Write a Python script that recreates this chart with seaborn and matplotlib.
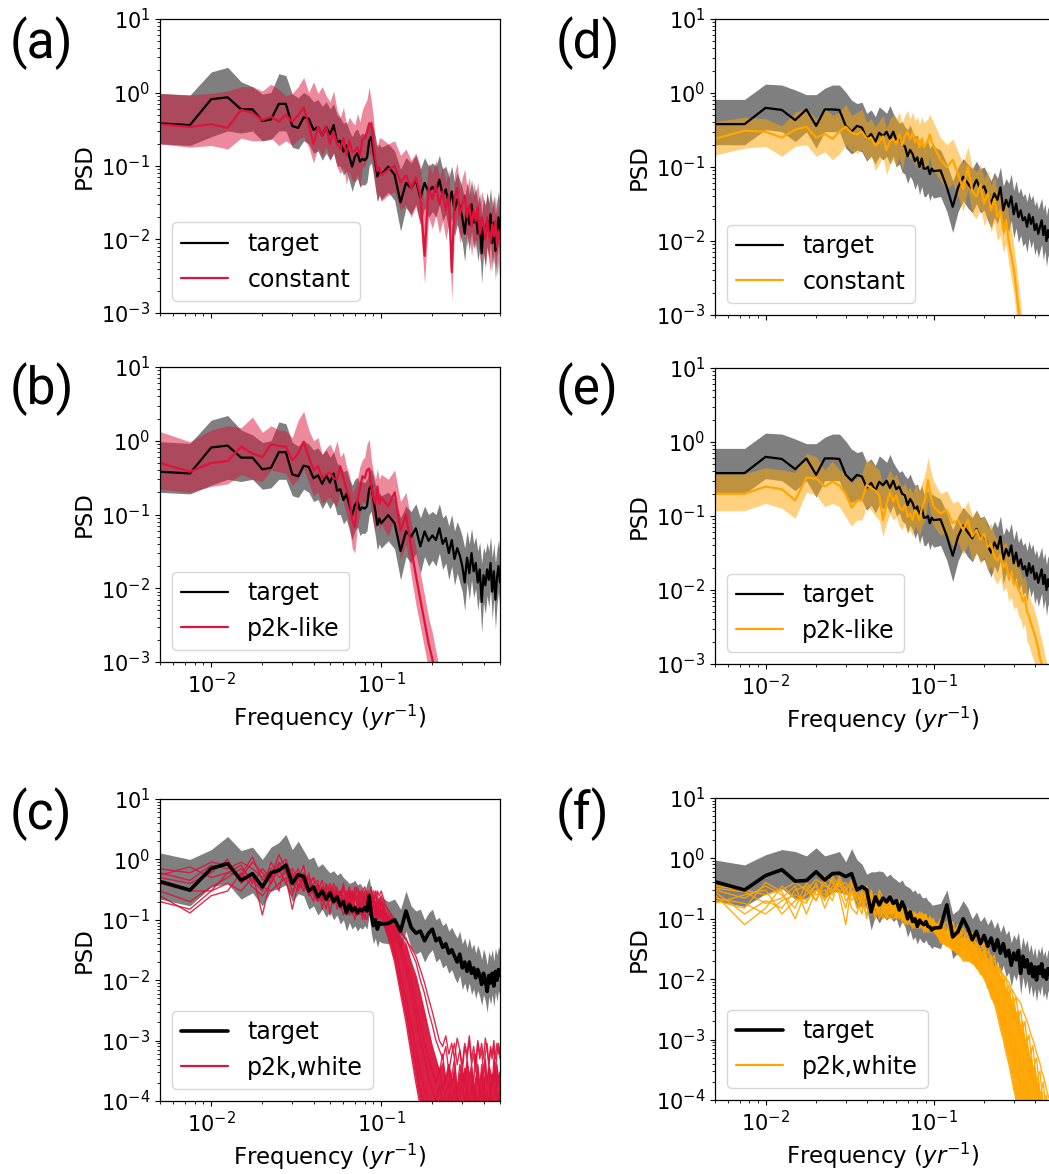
import numpy as np
import pandas as pd
import matplotlib
matplotlib.use("Agg")
import matplotlib.pyplot as plt
from matplotlib.lines import Line2D
from matplotlib.ticker import LogLocator, NullFormatter
import seaborn as sns

# ---------------- data ----------------
freq = [0.005, 0.0075, 0.01, 0.0125, 0.015, 0.0175, 0.02, 0.0225, 0.025, 0.0275,
        0.03, 0.0325, 0.035, 0.0375, 0.04, 0.0425, 0.045, 0.0475, 0.05, 0.0525,
        0.055, 0.0575, 0.06, 0.0625, 0.065, 0.0675, 0.07, 0.0725, 0.075, 0.0775,
        0.08, 0.0825, 0.085, 0.0875, 0.09, 0.0925, 0.095, 0.0975, 0.1,
        0.11, 0.12, 0.13, 0.14, 0.15, 0.16, 0.17, 0.18, 0.19, 0.20,
        0.21, 0.22, 0.23, 0.24, 0.25, 0.26, 0.27, 0.28, 0.29, 0.30,
        0.31, 0.32, 0.33, 0.34, 0.35, 0.36, 0.37, 0.38, 0.39, 0.40,
        0.41, 0.42, 0.43, 0.44, 0.45, 0.46, 0.47, 0.48, 0.49, 0.50]

# left column target (panels a, b)
tgt_left_med = [0.38, 0.36, 0.81, 0.86, 0.59, 0.59, 0.41, 0.43, 0.70, 0.70, 0.35, 0.33, 0.46, 0.44, 0.31, 0.34, 0.26, 0.34, 0.27, 0.36, 0.21, 0.22, 0.157, 0.19, 0.134, 0.098, 0.134, 0.15, 0.115, 0.125, 0.12, 0.13, 0.22, 0.25, 0.16, 0.11, 0.072, 0.088, 0.076] + \
               [0.098, 0.076, 0.032, 0.059, 0.05, 0.065, 0.037, 0.059, 0.044, 0.052, 0.045, 0.065, 0.04, 0.048, 0.03, 0.045, 0.025, 0.035, 0.028, 0.02, 0.012, 0.026, 0.016, 0.03, 0.017, 0.022, 0.012, 0.018, 0.0065, 0.015, 0.011, 0.018, 0.013, 0.022, 0.009, 0.017, 0.007, 0.014, 0.02, 0.012]
tgt_left_hi = [0.97, 0.92, 1.9, 2.2, 1.4, 1.2, 0.95, 1.0, 1.8, 1.7, 0.95, 0.85, 1.0, 0.9, 0.75, 0.8, 0.65, 0.75, 0.6, 0.7, 0.5, 0.45, 0.38, 0.4, 0.3, 0.25, 0.3, 0.32, 0.26, 0.28, 0.27, 0.3, 0.38, 0.42, 0.33, 0.25, 0.18, 0.2, 0.18] + \
              [0.2, 0.16, 0.09, 0.13, 0.11, 0.14, 0.09, 0.13, 0.1, 0.11, 0.1, 0.14, 0.09, 0.1, 0.07, 0.1, 0.06, 0.08, 0.065, 0.05, 0.035, 0.06, 0.04, 0.065, 0.04, 0.05, 0.032, 0.042, 0.022, 0.036, 0.03, 0.042, 0.032, 0.05, 0.026, 0.04, 0.022, 0.034, 0.045, 0.03]
tgt_left_lo = [0.2, 0.19, 0.25, 0.3, 0.28, 0.3, 0.22, 0.23, 0.3, 0.3, 0.18, 0.17, 0.22, 0.2, 0.15, 0.16, 0.12, 0.15, 0.12, 0.15, 0.1, 0.1, 0.075, 0.085, 0.062, 0.045, 0.06, 0.068, 0.052, 0.056, 0.055, 0.06, 0.1, 0.11, 0.075, 0.05, 0.033, 0.04, 0.035] + \
              [0.044, 0.034, 0.013, 0.027, 0.022, 0.03, 0.016, 0.027, 0.02, 0.024, 0.02, 0.03, 0.018, 0.022, 0.013, 0.02, 0.011, 0.016, 0.012, 0.009, 0.005, 0.012, 0.007, 0.013, 0.0075, 0.01, 0.005, 0.008, 0.0025, 0.0065, 0.0045, 0.008, 0.0055, 0.01, 0.0038, 0.0075, 0.0028, 0.006, 0.009, 0.005]

# panel a: constant (crimson)
const_left_med = [0.37, 0.34, 0.37, 0.33, 0.58, 0.53, 0.42, 0.47, 0.40, 0.50, 0.40, 0.49, 0.63, 0.36, 0.20, 0.34, 0.26, 0.34, 0.2, 0.29, 0.2, 0.17, 0.24, 0.14, 0.22, 0.155, 0.16, 0.18, 0.14, 0.23, 0.24, 0.29, 0.38, 0.37, 0.2, 0.12, 0.085, 0.095, 0.075] + \
                 [0.09, 0.1, 0.06, 0.075, 0.05, 0.07, 0.04, 0.006, 0.05, 0.035, 0.055, 0.03, 0.045, 0.025, 0.04, 0.0036, 0.035, 0.05, 0.022, 0.03, 0.04, 0.02, 0.03, 0.015, 0.025, 0.018, 0.028, 0.012, 0.02, 0.016, 0.01, 0.02, 0.012, 0.009, 0.016, 0.011, 0.018, 0.008, 0.013, 0.01]
const_left_hi = [0.97, 0.93, 0.97, 1.05, 1.2, 1.2, 1.05, 1.3, 1.1, 0.9, 0.97, 1.2, 1.6, 1.0, 1.4, 0.97, 1.2, 0.9, 0.75, 1.05, 0.58, 0.46, 0.63, 0.36, 0.46, 0.4, 0.36, 0.52, 0.4, 0.58, 0.69, 0.8, 1.2, 0.75, 0.46, 0.2, 0.19, 0.24, 0.24] + \
                [0.2, 0.22, 0.14, 0.17, 0.12, 0.15, 0.1, 0.03, 0.11, 0.08, 0.12, 0.07, 0.1, 0.06, 0.09, 0.015, 0.08, 0.11, 0.05, 0.07, 0.09, 0.05, 0.07, 0.035, 0.06, 0.04, 0.06, 0.03, 0.045, 0.037, 0.025, 0.045, 0.03, 0.022, 0.038, 0.026, 0.04, 0.02, 0.03, 0.025]
const_left_lo = [0.2, 0.18, 0.19, 0.17, 0.24, 0.22, 0.22, 0.24, 0.19, 0.22, 0.19, 0.23, 0.25, 0.18, 0.11, 0.18, 0.135, 0.18, 0.12, 0.15, 0.097, 0.078, 0.097, 0.056, 0.087, 0.063, 0.063, 0.078, 0.05, 0.097, 0.097, 0.12, 0.15, 0.135, 0.087, 0.05, 0.033, 0.042, 0.033] + \
                [0.04, 0.045, 0.025, 0.03, 0.02, 0.028, 0.016, 0.0025, 0.02, 0.014, 0.022, 0.012, 0.018, 0.01, 0.016, 0.0015, 0.014, 0.02, 0.009, 0.012, 0.016, 0.008, 0.012, 0.006, 0.01, 0.007, 0.011, 0.005, 0.008, 0.0065, 0.004, 0.008, 0.005, 0.0036, 0.0065, 0.0045, 0.007, 0.0032, 0.005, 0.0026]

# panel b: p2k-like (crimson)
p2k_left_med = [0.5, 0.38, 0.5, 0.53, 0.83, 0.67, 0.6, 0.9, 0.85, 0.83, 0.54, 0.67, 0.97, 0.6, 0.4, 0.45, 0.31, 0.35, 0.37, 0.31, 0.3, 0.45, 0.31, 0.22, 0.17, 0.084, 0.068, 0.155, 0.22, 0.33, 0.31, 0.4, 0.42, 0.24, 0.17, 0.14, 0.24, 0.14, 0.17] + \
               [0.13, 0.2, 0.06, 0.1, 0.035, 0.015, 0.007, 0.0035, 0.0018, 0.0011, 0.0006, 0.0003, 0.0002, 0.00012, 0.0001, 0.00008, 0.00007, 0.00006, 0.00005, 0.00005, 0.00004, 0.00004, 0.00004, 0.00003, 0.00003, 0.00003, 0.00003, 0.00003, 0.00003, 0.00003, 0.00003, 0.00003, 0.00003, 0.00003, 0.00003, 0.00003, 0.00003, 0.00003, 0.00003, 0.00003]
p2k_left_hi = [1.33, 0.97, 1.4, 1.6, 1.5, 2.1, 1.3, 1.6, 1.4, 1.35, 1.1, 1.9, 2.5, 1.4, 1.0, 1.1, 0.65, 0.8, 0.9, 0.7, 1.0, 0.6, 0.7, 0.45, 0.35, 0.2, 0.23, 0.3, 0.45, 0.55, 0.6, 0.9, 1.05, 0.55, 0.38, 0.3, 0.42, 0.3, 0.35] + \
              [0.3, 0.4, 0.15, 0.2, 0.08, 0.035, 0.016, 0.008, 0.004, 0.0025, 0.0014, 0.0008, 0.0005, 0.0003, 0.0002, 0.00015, 0.00012, 0.0001, 0.0001, 0.00009, 0.00008, 0.00008, 0.00007, 0.00007, 0.00006, 0.00006, 0.00006, 0.00006, 0.00006, 0.00006, 0.00006, 0.00006, 0.00006, 0.00006, 0.00006, 0.00006, 0.00006, 0.00006, 0.00006, 0.00006]
p2k_left_lo = [0.22, 0.2, 0.24, 0.26, 0.35, 0.3, 0.28, 0.4, 0.38, 0.36, 0.25, 0.3, 0.42, 0.27, 0.18, 0.2, 0.14, 0.16, 0.17, 0.14, 0.13, 0.2, 0.14, 0.1, 0.07, 0.035, 0.03, 0.07, 0.1, 0.15, 0.14, 0.18, 0.19, 0.11, 0.075, 0.06, 0.1, 0.06, 0.075] + \
              [0.05, 0.09, 0.025, 0.04, 0.015, 0.006, 0.003, 0.0015, 0.0008, 0.0004, 0.0002, 0.0001, 0.00007, 0.00005, 0.00004, 0.00003, 0.00002, 0.00002, 0.00002, 0.00002, 0.00001, 0.00001, 0.00001, 0.00001, 0.00001, 0.00001, 0.00001, 0.00001, 0.00001, 0.00001, 0.00001, 0.00001, 0.00001, 0.00001, 0.00001, 0.00001, 0.00001, 0.00001, 0.00001, 0.00001]

# panel c: target and p2k,white ensemble members (crimson)
tgt_left2_med = [0.43, 0.31, 0.71, 0.85, 0.45, 0.58, 0.35, 0.6, 0.66, 0.8, 0.4, 0.56, 0.52, 0.3, 0.35, 0.24, 0.3, 0.22, 0.28, 0.2, 0.24, 0.17, 0.2, 0.13, 0.18, 0.14, 0.16, 0.13, 0.15, 0.14, 0.16, 0.14, 0.25, 0.12, 0.08, 0.1, 0.07, 0.09, 0.085] + \
                [0.087, 0.1, 0.065, 0.14, 0.075, 0.06, 0.065, 0.045, 0.06, 0.07, 0.045, 0.05, 0.035, 0.04, 0.028, 0.032, 0.025, 0.02, 0.027, 0.016, 0.02, 0.014, 0.02, 0.013, 0.016, 0.011, 0.015, 0.012, 0.0085, 0.013, 0.01, 0.0065, 0.012, 0.009, 0.013, 0.008, 0.014, 0.01, 0.015, 0.012]
tgt_left2_hi = [1.28, 1.0, 1.45, 2.4, 1.4, 1.6, 1.0, 1.6, 1.9, 2.6, 1.45, 2.0, 1.4, 1.0, 1.1, 0.75, 0.85, 0.7, 0.6, 0.65, 0.55, 0.6, 0.5, 0.45, 0.4, 0.42, 0.45, 0.38, 0.4, 0.35, 0.3, 0.4, 0.5, 0.3, 0.26, 0.28, 0.22, 0.25, 0.24] + \
               [0.2, 0.22, 0.15, 0.3, 0.17, 0.14, 0.15, 0.1, 0.13, 0.15, 0.1, 0.11, 0.08, 0.09, 0.065, 0.075, 0.06, 0.05, 0.065, 0.04, 0.05, 0.035, 0.05, 0.033, 0.04, 0.028, 0.038, 0.03, 0.022, 0.033, 0.026, 0.018, 0.03, 0.024, 0.032, 0.021, 0.034, 0.026, 0.036, 0.03]
tgt_left2_lo = [0.22, 0.17, 0.35, 0.4, 0.22, 0.28, 0.17, 0.3, 0.33, 0.38, 0.2, 0.27, 0.25, 0.15, 0.17, 0.12, 0.15, 0.11, 0.14, 0.1, 0.12, 0.085, 0.1, 0.065, 0.09, 0.07, 0.08, 0.065, 0.075, 0.07, 0.08, 0.07, 0.12, 0.06, 0.04, 0.05, 0.035, 0.045, 0.042] + \
               [0.04, 0.045, 0.03, 0.065, 0.034, 0.027, 0.03, 0.02, 0.027, 0.032, 0.02, 0.023, 0.016, 0.018, 0.013, 0.015, 0.011, 0.009, 0.012, 0.007, 0.009, 0.0063, 0.009, 0.0058, 0.0072, 0.005, 0.0068, 0.0054, 0.0038, 0.0058, 0.0045, 0.0029, 0.0054, 0.004, 0.0058, 0.0036, 0.0063, 0.0045, 0.0068, 0.0054]

white_left_m1 = [0.7, 0.6, 0.9, 0.8, 0.5, 0.9, 0.6, 0.4, 0.8, 1.0, 0.5, 0.7, 0.4, 0.35, 0.5, 0.3, 0.45, 0.25, 0.35, 0.2, 0.3, 0.25, 0.35, 0.2, 0.15, 0.3, 0.2, 0.25, 0.12, 0.2, 0.3, 0.15, 0.25, 0.35, 0.18, 0.12, 0.2, 0.15, 0.12] + \
                [0.12, 0.09, 0.06, 0.05, 0.03, 0.02, 0.01, 0.006, 0.003, 0.0018, 0.001, 0.0007, 0.0005, 0.0008, 0.0003, 0.0006, 0.0009, 0.0004, 0.0007, 0.0003, 0.0008, 0.0005, 0.001, 0.0004, 0.0006, 0.0003, 0.0009, 0.0005, 0.0007, 0.0003, 0.0006, 0.0009, 0.0004, 0.0007, 0.0005, 0.0008, 0.0003, 0.0006, 0.0009, 0.0005]
white_left_m2 = [0.3, 0.2, 0.35, 0.5, 0.7, 0.45, 0.3, 0.9, 0.5, 0.6, 0.3, 0.45, 0.8, 0.3, 0.2, 0.4, 0.25, 0.3, 0.2, 0.35, 0.15, 0.22, 0.18, 0.3, 0.12, 0.18, 0.1, 0.15, 0.2, 0.12, 0.18, 0.25, 0.15, 0.22, 0.1, 0.2, 0.15, 0.1, 0.15] + \
                [0.07, 0.035, 0.012, 0.005, 0.0018, 0.0007, 0.0003, 0.00015, 0.0001, 0.00006, 0.00012, 0.00005, 0.0001, 0.00007, 0.00013, 0.00005, 0.00009, 0.00012, 0.00006, 0.0001, 0.00005, 0.00011, 0.00007, 0.00009, 0.00005, 0.00012, 0.00006, 0.0001, 0.00007, 0.00013, 0.00005, 0.00009, 0.00006, 0.00011, 0.00008, 0.00005, 0.0001, 0.00007, 0.00012, 0.00006]
white_left_m3 = [0.5, 0.4, 0.6, 1.0, 0.4, 0.6, 0.12, 0.5, 1.2, 0.7, 0.4, 0.3, 0.6, 0.45, 0.3, 0.35, 0.2, 0.4, 0.3, 0.18, 0.25, 0.3, 0.15, 0.25, 0.3, 0.12, 0.25, 0.18, 0.15, 0.3, 0.15, 0.2, 0.12, 0.2, 0.25, 0.15, 0.1, 0.2, 0.18] + \
                [0.1, 0.06, 0.04, 0.02, 0.01, 0.004, 0.0018, 0.0009, 0.0005, 0.0003, 0.0002, 0.00035, 0.00015, 0.00025, 0.0004, 0.00018, 0.0003, 0.00012, 0.00028, 0.0002, 0.00035, 0.00015, 0.00025, 0.0003, 0.00012, 0.00022, 0.0004, 0.00018, 0.0003, 0.00015, 0.00025, 0.0002, 0.00035, 0.00012, 0.00028, 0.0002, 0.00032, 0.00016, 0.00025, 0.0003]
white_left_m4 = [0.2, 0.15, 0.3, 0.4, 0.3, 0.5, 0.35, 0.3, 0.4, 0.5, 0.15, 0.4, 0.3, 0.6, 0.25, 0.2, 0.35, 0.2, 0.25, 0.3, 0.2, 0.15, 0.25, 0.18, 0.2, 0.25, 0.15, 0.12, 0.18, 0.15, 0.1, 0.2, 0.3, 0.12, 0.2, 0.18, 0.12, 0.15, 0.1] + \
                [0.06, 0.025, 0.008, 0.003, 0.001, 0.0004, 0.00015, 0.00008, 0.00004, 0.00002, 0.00003, 0.00002, 0.00003, 0.00002, 0.00003, 0.00002, 0.00003, 0.00002, 0.00003, 0.00002, 0.00003, 0.00002, 0.00003, 0.00002, 0.00003, 0.00002, 0.00003, 0.00002, 0.00003, 0.00002, 0.00003, 0.00002, 0.00003, 0.00002, 0.00003, 0.00002, 0.00003, 0.00002, 0.00003, 0.00002]
white_left_m5 = [0.6, 0.45, 0.8, 0.7, 0.9, 0.7, 0.5, 0.7, 0.6, 0.8, 0.6, 0.35, 0.5, 0.3, 0.4, 0.45, 0.15, 0.3, 0.4, 0.25, 0.35, 0.2, 0.3, 0.25, 0.35, 0.2, 0.3, 0.22, 0.3, 0.25, 0.2, 0.3, 0.2, 0.15, 0.3, 0.25, 0.2, 0.12, 0.2] + \
                [0.15, 0.1, 0.05, 0.04, 0.02, 0.012, 0.006, 0.003, 0.0015, 0.0008, 0.0005, 0.0003, 0.0006, 0.0002, 0.0004, 0.00025, 0.0005, 0.00015, 0.0004, 0.0003, 0.00018, 0.0005, 0.00025, 0.0004, 0.0002, 0.0006, 0.0003, 0.00015, 0.0004, 0.00025, 0.0005, 0.0002, 0.0004, 0.0003, 0.00018, 0.0005, 0.00025, 0.0004, 0.0002, 0.0003]
white_left_m6 = [0.4, 0.3, 0.3, 0.6, 0.55, 1.1, 0.45, 0.6, 0.3, 0.9, 0.5, 0.55, 0.35, 0.5, 0.35, 0.25, 0.3, 0.35, 0.12, 0.3, 0.25, 0.3, 0.2, 0.15, 0.25, 0.2, 0.35, 0.3, 0.2, 0.1, 0.25, 0.15, 0.18, 0.25, 0.15, 0.3, 0.25, 0.18, 0.25] + \
                [0.09, 0.07, 0.03, 0.015, 0.006, 0.0025, 0.001, 0.0005, 0.00025, 0.00015, 0.0001, 0.00018, 0.00008, 0.00014, 0.0002, 0.0001, 0.00016, 0.00007, 0.00013, 0.00018, 0.0001, 0.00015, 0.00008, 0.0002, 0.0001, 0.00014, 0.00007, 0.00016, 0.00011, 0.00019, 0.00009, 0.00014, 0.0001, 0.00017, 0.00008, 0.00013, 0.00018, 0.0001, 0.00015, 0.00012]
white_left_m7 = [0.25, 0.13, 0.25, 0.3, 0.6, 0.35, 0.25, 0.4, 0.7, 0.4, 0.25, 0.6, 0.45, 0.25, 0.3, 0.2, 0.25, 0.15, 0.3, 0.2, 0.3, 0.18, 0.12, 0.2, 0.25, 0.3, 0.12, 0.2, 0.25, 0.2, 0.12, 0.1, 0.2, 0.15, 0.2, 0.1, 0.15, 0.22, 0.12] + \
                [0.05, 0.02, 0.006, 0.002, 0.0006, 0.0002, 0.00008, 0.00004, 0.00002, 0.00001, 0.00001, 0.00001, 0.00001, 0.00001, 0.00001, 0.00001, 0.00001, 0.00001, 0.00001, 0.00001, 0.00001, 0.00001, 0.00001, 0.00001, 0.00001, 0.00001, 0.00001, 0.00001, 0.00001, 0.00001, 0.00001, 0.00001, 0.00001, 0.00001, 0.00001, 0.00001, 0.00001, 0.00001, 0.00001, 0.00001]
white_left_m8 = [0.55, 0.75, 0.5, 0.6, 0.8, 0.4, 0.7, 0.5, 0.9, 0.6, 0.7, 0.5, 0.3, 0.4, 0.5, 0.3, 0.35, 0.3, 0.25, 0.4, 0.3, 0.25, 0.4, 0.2, 0.3, 0.15, 0.25, 0.35, 0.25, 0.3, 0.35, 0.25, 0.15, 0.3, 0.2, 0.12, 0.3, 0.25, 0.3] + \
                [0.13, 0.1, 0.07, 0.045, 0.035, 0.025, 0.015, 0.009, 0.005, 0.003, 0.0017, 0.001, 0.0008, 0.0012, 0.0006, 0.0009, 0.0005, 0.0011, 0.0007, 0.0004, 0.0009, 0.0006, 0.0012, 0.0005, 0.0008, 0.0004, 0.001, 0.0006, 0.0009, 0.0005, 0.0011, 0.0007, 0.0004, 0.0008, 0.0006, 0.001, 0.0005, 0.0009, 0.0006, 0.0008]

# right column target (panels d, e)
tgt_right_med = [0.38, 0.38, 0.63, 0.59, 0.43, 0.6, 0.36, 0.6, 0.6, 0.59, 0.36, 0.3, 0.36, 0.34, 0.24, 0.28, 0.22, 0.29, 0.26, 0.3, 0.24, 0.3, 0.23, 0.25, 0.2, 0.19, 0.14, 0.17, 0.15, 0.12, 0.135, 0.1, 0.13, 0.095, 0.095, 0.1, 0.08, 0.095, 0.088] + \
                [0.09, 0.053, 0.029, 0.053, 0.074, 0.06, 0.05, 0.067, 0.05, 0.055, 0.04, 0.032, 0.044, 0.036, 0.053, 0.026, 0.036, 0.029, 0.04, 0.023, 0.032, 0.021, 0.026, 0.019, 0.021, 0.0156, 0.023, 0.017, 0.021, 0.014, 0.017, 0.0125, 0.0156, 0.019, 0.012, 0.016, 0.01, 0.014, 0.011, 0.013]
tgt_right_hi = [0.82, 0.82, 1.32, 1.28, 1.1, 0.95, 0.95, 1.16, 1.28, 1.28, 1.03, 0.8, 0.72, 0.75, 0.53, 0.59, 0.48, 0.65, 0.59, 0.53, 0.68, 0.53, 0.45, 0.39, 0.41, 0.35, 0.32, 0.37, 0.3, 0.26, 0.27, 0.22, 0.26, 0.2, 0.21, 0.22, 0.18, 0.2, 0.19] + \
               [0.17, 0.11, 0.065, 0.1, 0.13, 0.11, 0.095, 0.12, 0.095, 0.1, 0.08, 0.065, 0.085, 0.07, 0.1, 0.055, 0.07, 0.06, 0.08, 0.048, 0.065, 0.044, 0.052, 0.04, 0.044, 0.034, 0.046, 0.036, 0.042, 0.03, 0.035, 0.027, 0.032, 0.038, 0.026, 0.032, 0.022, 0.029, 0.024, 0.026]
tgt_right_lo = [0.2, 0.2, 0.32, 0.3, 0.22, 0.3, 0.18, 0.3, 0.3, 0.3, 0.18, 0.15, 0.17, 0.16, 0.12, 0.14, 0.11, 0.14, 0.125, 0.14, 0.11, 0.14, 0.1, 0.11, 0.085, 0.08, 0.06, 0.075, 0.065, 0.05, 0.06, 0.042, 0.055, 0.04, 0.04, 0.045, 0.035, 0.042, 0.038] + \
               [0.04, 0.025, 0.013, 0.025, 0.035, 0.028, 0.024, 0.032, 0.024, 0.026, 0.019, 0.015, 0.021, 0.017, 0.025, 0.012, 0.017, 0.013, 0.019, 0.011, 0.015, 0.0095, 0.012, 0.0085, 0.0095, 0.007, 0.011, 0.008, 0.01, 0.0065, 0.008, 0.006, 0.0075, 0.009, 0.0055, 0.0075, 0.0045, 0.0065, 0.005, 0.006]

# panel d: constant (orange)
const_right_med = [0.24, 0.31, 0.3, 0.25, 0.32, 0.35, 0.25, 0.28, 0.24, 0.3, 0.35, 0.29, 0.275, 0.3, 0.24, 0.25, 0.195, 0.215, 0.26, 0.17, 0.225, 0.24, 0.205, 0.275, 0.195, 0.26, 0.3, 0.24, 0.29, 0.215, 0.24, 0.185, 0.24, 0.185, 0.205, 0.225, 0.275, 0.215, 0.195] + \
                  [0.125, 0.1, 0.125, 0.08, 0.05, 0.1, 0.047, 0.04, 0.057, 0.032, 0.044, 0.026, 0.037, 0.021, 0.026, 0.014, 0.019, 0.01, 0.0065, 0.0042, 0.0023, 0.0012, 0.0006, 0.0003, 0.00015, 0.00008, 0.00004, 0.00002, 0.00001, 0.000006, 0.000004, 0.000003, 0.000002, 0.0000015, 0.000001, 0.000001, 0.000001, 0.000001, 0.000001, 0.000001]
const_right_hi = [0.41, 0.47, 0.45, 0.36, 0.55, 0.62, 0.45, 0.62, 0.5, 0.55, 0.7, 0.5, 0.55, 0.6, 0.4, 0.45, 0.35, 0.42, 0.5, 0.33, 0.45, 0.5, 0.45, 0.55, 0.4, 0.5, 0.58, 0.45, 0.55, 0.42, 0.48, 0.38, 0.48, 0.4, 0.42, 0.45, 0.52, 0.45, 0.4] + \
                 [0.25, 0.2, 0.24, 0.16, 0.11, 0.19, 0.1, 0.085, 0.11, 0.07, 0.09, 0.055, 0.075, 0.045, 0.055, 0.03, 0.04, 0.022, 0.015, 0.009, 0.005, 0.0027, 0.0014, 0.0007, 0.0003, 0.00017, 0.00009, 0.00005, 0.00003, 0.00002, 0.00001, 0.00001, 0.00001, 0.00001, 0.00001, 0.00001, 0.00001, 0.00001, 0.00001, 0.00001]
const_right_lo = [0.145, 0.18, 0.19, 0.14, 0.19, 0.2, 0.14, 0.16, 0.125, 0.15, 0.2, 0.165, 0.155, 0.17, 0.125, 0.14, 0.09, 0.11, 0.14, 0.078, 0.11, 0.125, 0.1, 0.14, 0.09, 0.14, 0.155, 0.125, 0.145, 0.1, 0.125, 0.09, 0.12, 0.09, 0.1, 0.11, 0.14, 0.1, 0.09] + \
                 [0.065, 0.05, 0.06, 0.04, 0.025, 0.05, 0.023, 0.02, 0.028, 0.016, 0.022, 0.013, 0.018, 0.01, 0.012, 0.007, 0.009, 0.005, 0.003, 0.002, 0.001, 0.0005, 0.0002, 0.0001, 0.00005, 0.00003, 0.00002, 0.00001, 0.000005, 0.000003, 0.000002, 0.000001, 0.000001, 0.000001, 0.000001, 0.000001, 0.000001, 0.000001, 0.000001, 0.000001]

# panel e: p2k-like (orange)
p2k_right_med = [0.2, 0.2, 0.25, 0.23, 0.163, 0.33, 0.32, 0.25, 0.29, 0.26, 0.2, 0.13, 0.16, 0.165, 0.265, 0.24, 0.22, 0.19, 0.088, 0.148, 0.21, 0.157, 0.19, 0.134, 0.12, 0.14, 0.097, 0.108, 0.088, 0.12, 0.108, 0.088, 0.127, 0.148, 0.19, 0.305, 0.22, 0.165, 0.134] + \
                [0.108, 0.12, 0.08, 0.088, 0.065, 0.088, 0.053, 0.065, 0.048, 0.058, 0.038, 0.042, 0.028, 0.025, 0.03, 0.02, 0.023, 0.015, 0.017, 0.012, 0.013, 0.01, 0.009, 0.007, 0.008, 0.005, 0.0045, 0.0035, 0.003, 0.0025, 0.002, 0.0016, 0.0012, 0.001, 0.0008, 0.0006, 0.0005, 0.0004, 0.0003, 0.00025]
p2k_right_hi = [0.37, 0.37, 0.45, 0.42, 0.39, 0.7, 0.63, 0.42, 0.55, 0.42, 0.37, 0.28, 0.33, 0.38, 0.59, 0.53, 0.47, 0.42, 0.25, 0.33, 0.42, 0.33, 0.37, 0.28, 0.25, 0.28, 0.22, 0.25, 0.2, 0.26, 0.25, 0.21, 0.28, 0.33, 0.42, 0.62, 0.47, 0.36, 0.3] + \
               [0.2, 0.22, 0.15, 0.16, 0.12, 0.16, 0.1, 0.12, 0.09, 0.1, 0.07, 0.08, 0.055, 0.05, 0.06, 0.04, 0.045, 0.03, 0.034, 0.024, 0.026, 0.02, 0.018, 0.014, 0.016, 0.01, 0.009, 0.007, 0.0062, 0.0052, 0.0042, 0.0034, 0.0026, 0.0021, 0.0017, 0.0013, 0.0011, 0.0009, 0.0007, 0.0006]
p2k_right_lo = [0.118, 0.118, 0.148, 0.127, 0.093, 0.21, 0.19, 0.134, 0.148, 0.134, 0.097, 0.073, 0.088, 0.088, 0.134, 0.12, 0.1, 0.088, 0.053, 0.08, 0.108, 0.088, 0.097, 0.073, 0.065, 0.08, 0.058, 0.065, 0.053, 0.073, 0.065, 0.053, 0.073, 0.08, 0.097, 0.165, 0.12, 0.088, 0.073] + \
               [0.055, 0.06, 0.038, 0.044, 0.03, 0.042, 0.025, 0.032, 0.023, 0.028, 0.018, 0.021, 0.014, 0.012, 0.015, 0.0095, 0.011, 0.007, 0.008, 0.0055, 0.006, 0.0045, 0.004, 0.003, 0.0035, 0.002, 0.0018, 0.0014, 0.0012, 0.001, 0.0008, 0.0006, 0.0005, 0.0004, 0.0003, 0.00025, 0.0002, 0.00015, 0.00012, 0.0001]

# panel f: target and p2k,white ensemble members (orange)
tgt_right2_med = [0.41, 0.3, 0.52, 0.65, 0.42, 0.43, 0.6, 0.44, 0.56, 0.57, 0.5, 0.56, 0.3, 0.34, 0.3, 0.13, 0.23, 0.17, 0.22, 0.19, 0.23, 0.18, 0.2, 0.14, 0.19, 0.15, 0.1, 0.13, 0.09, 0.1, 0.075, 0.095, 0.085, 0.08, 0.09, 0.075, 0.073, 0.065, 0.07] + \
                 [0.072, 0.17, 0.05, 0.062, 0.1, 0.07, 0.045, 0.062, 0.039, 0.053, 0.035, 0.048, 0.03, 0.045, 0.027, 0.039, 0.024, 0.03, 0.017, 0.027, 0.021, 0.03, 0.0125, 0.024, 0.016, 0.021, 0.0125, 0.018, 0.011, 0.016, 0.0097, 0.016, 0.0125, 0.018, 0.011, 0.014, 0.01, 0.015, 0.012, 0.013]
tgt_right2_hi = [0.94, 0.78, 1.15, 1.4, 1.3, 1.1, 1.5, 1.1, 1.2, 1.3, 0.88, 1.45, 0.95, 0.8, 0.55, 0.6, 0.6, 0.62, 0.6, 0.5, 0.55, 0.48, 0.44, 0.4, 0.44, 0.36, 0.34, 0.32, 0.28, 0.3, 0.26, 0.27, 0.23, 0.22, 0.23, 0.2, 0.19, 0.17, 0.17] + \
                [0.18, 0.3, 0.12, 0.14, 0.2, 0.15, 0.1, 0.13, 0.09, 0.11, 0.08, 0.1, 0.07, 0.09, 0.06, 0.08, 0.055, 0.065, 0.04, 0.055, 0.045, 0.06, 0.03, 0.05, 0.035, 0.045, 0.028, 0.038, 0.025, 0.034, 0.022, 0.033, 0.027, 0.036, 0.024, 0.03, 0.022, 0.031, 0.026, 0.028]
tgt_right2_lo = [0.2, 0.16, 0.26, 0.32, 0.21, 0.22, 0.3, 0.22, 0.28, 0.28, 0.25, 0.28, 0.15, 0.17, 0.15, 0.065, 0.11, 0.085, 0.11, 0.095, 0.11, 0.09, 0.1, 0.07, 0.09, 0.075, 0.05, 0.065, 0.045, 0.05, 0.038, 0.048, 0.042, 0.04, 0.045, 0.038, 0.036, 0.032, 0.035] + \
                [0.032, 0.07, 0.022, 0.028, 0.045, 0.031, 0.02, 0.028, 0.017, 0.024, 0.016, 0.021, 0.013, 0.02, 0.012, 0.017, 0.011, 0.013, 0.0075, 0.012, 0.0095, 0.013, 0.0055, 0.011, 0.007, 0.0095, 0.0055, 0.008, 0.005, 0.007, 0.0043, 0.007, 0.0055, 0.008, 0.005, 0.006, 0.0045, 0.0065, 0.0053, 0.0057]

white_right_m1 = [0.35, 0.3, 0.25, 0.3, 0.4, 0.3, 0.45, 0.35, 0.3, 0.4, 0.25, 0.3, 0.2, 0.25, 0.3, 0.2, 0.15, 0.22, 0.18, 0.15, 0.2, 0.12, 0.15, 0.18, 0.1, 0.13, 0.1, 0.12, 0.08, 0.1, 0.12, 0.07, 0.09, 0.11, 0.08, 0.07, 0.09, 0.06, 0.08] + \
                 [0.08, 0.05, 0.09, 0.045, 0.07, 0.05, 0.06, 0.035, 0.05, 0.03, 0.035, 0.02, 0.025, 0.012, 0.015, 0.008, 0.011, 0.005, 0.007, 0.004, 0.005, 0.0025, 0.003, 0.0015, 0.002, 0.0009, 0.0012, 0.0006, 0.0008, 0.0004, 0.0005, 0.00025, 0.0003, 0.00015, 0.0002, 0.0001, 0.00012, 0.00006, 0.00008, 0.00004]
white_right_m2 = [0.22, 0.18, 0.12, 0.2, 0.25, 0.2, 0.3, 0.25, 0.45, 0.28, 0.35, 0.15, 0.12, 0.3, 0.2, 0.25, 0.12, 0.15, 0.2, 0.12, 0.1, 0.15, 0.18, 0.1, 0.12, 0.08, 0.13, 0.09, 0.11, 0.07, 0.1, 0.12, 0.08, 0.06, 0.1, 0.08, 0.06, 0.08, 0.07] + \
                 [0.06, 0.04, 0.05, 0.03, 0.04, 0.025, 0.03, 0.018, 0.02, 0.01, 0.008, 0.005, 0.004, 0.0025, 0.0015, 0.001, 0.0006, 0.0004, 0.00025, 0.00015, 0.0001, 0.00007, 0.00005, 0.00004, 0.00003, 0.00003, 0.00003, 0.00003, 0.00003, 0.00003, 0.00003, 0.00003, 0.00003, 0.00003, 0.00003, 0.00003, 0.00003, 0.00003, 0.00003, 0.00003]
white_right_m3 = [0.28, 0.12, 0.2, 0.15, 0.3, 0.35, 0.2, 0.4, 0.25, 0.5, 0.3, 0.2, 0.28, 0.15, 0.2, 0.12, 0.2, 0.1, 0.14, 0.18, 0.12, 0.17, 0.1, 0.13, 0.15, 0.1, 0.08, 0.12, 0.09, 0.13, 0.08, 0.1, 0.13, 0.09, 0.07, 0.1, 0.08, 0.09, 0.06] + \
                 [0.1, 0.07, 0.05, 0.08, 0.045, 0.06, 0.04, 0.05, 0.03, 0.04, 0.02, 0.025, 0.015, 0.018, 0.01, 0.012, 0.006, 0.008, 0.004, 0.005, 0.0025, 0.003, 0.0015, 0.002, 0.0009, 0.0011, 0.0005, 0.0007, 0.0003, 0.0004, 0.0002, 0.00025, 0.00012, 0.00015, 0.00008, 0.0001, 0.00005, 0.00006, 0.00004, 0.00003]
white_right_m4 = [0.18, 0.25, 0.3, 0.12, 0.2, 0.25, 0.35, 0.2, 0.35, 0.3, 0.15, 0.4, 0.25, 0.18, 0.12, 0.18, 0.25, 0.15, 0.1, 0.15, 0.18, 0.1, 0.12, 0.15, 0.09, 0.12, 0.15, 0.08, 0.1, 0.09, 0.07, 0.11, 0.1, 0.08, 0.09, 0.06, 0.1, 0.07, 0.09] + \
                 [0.05, 0.035, 0.04, 0.025, 0.035, 0.02, 0.03, 0.015, 0.02, 0.012, 0.008, 0.01, 0.005, 0.006, 0.003, 0.0035, 0.0018, 0.002, 0.001, 0.0012, 0.0006, 0.0007, 0.0003, 0.0004, 0.0002, 0.0002, 0.0001, 0.00012, 0.00006, 0.00007, 0.00004, 0.00004, 0.00003, 0.00003, 0.00002, 0.00002, 0.00002, 0.00002, 0.00002, 0.00002]
white_right_m5 = [0.3, 0.22, 0.35, 0.25, 0.15, 0.4, 0.25, 0.3, 0.2, 0.45, 0.2, 0.25, 0.35, 0.2, 0.15, 0.25, 0.18, 0.2, 0.12, 0.2, 0.15, 0.13, 0.2, 0.12, 0.14, 0.16, 0.11, 0.1, 0.13, 0.1, 0.09, 0.08, 0.12, 0.1, 0.12, 0.09, 0.07, 0.1, 0.08] + \
                 [0.07, 0.09, 0.04, 0.06, 0.035, 0.05, 0.03, 0.04, 0.025, 0.03, 0.018, 0.022, 0.012, 0.015, 0.008, 0.01, 0.005, 0.006, 0.003, 0.0035, 0.002, 0.0022, 0.0012, 0.0014, 0.0007, 0.0009, 0.0004, 0.0005, 0.00025, 0.0003, 0.00015, 0.00018, 0.0001, 0.00011, 0.00006, 0.00007, 0.00004, 0.00004, 0.00003, 0.00003]
white_right_m6 = [0.25, 0.08, 0.15, 0.35, 0.22, 0.18, 0.4, 0.15, 0.3, 0.35, 0.4, 0.3, 0.15, 0.22, 0.25, 0.15, 0.22, 0.12, 0.16, 0.1, 0.14, 0.2, 0.13, 0.1, 0.16, 0.11, 0.09, 0.14, 0.1, 0.12, 0.11, 0.09, 0.07, 0.12, 0.1, 0.08, 0.11, 0.09, 0.07] + \
                 [0.09, 0.06, 0.07, 0.05, 0.06, 0.04, 0.05, 0.035, 0.04, 0.03, 0.028, 0.022, 0.02, 0.016, 0.014, 0.012, 0.01, 0.009, 0.007, 0.006, 0.005, 0.0045, 0.004, 0.003, 0.0025, 0.002, 0.0016, 0.0012, 0.001, 0.0008, 0.0006, 0.0005, 0.0004, 0.0003, 0.00025, 0.0002, 0.00015, 0.00012, 0.0001, 0.00008]
white_right_m7 = [0.2, 0.15, 0.4, 0.28, 0.1, 0.3, 0.2, 0.5, 0.4, 0.25, 0.08, 0.35, 0.3, 0.25, 0.1, 0.3, 0.15, 0.25, 0.15, 0.1, 0.25, 0.15, 0.1, 0.2, 0.12, 0.09, 0.12, 0.1, 0.07, 0.11, 0.09, 0.13, 0.09, 0.07, 0.11, 0.09, 0.08, 0.06, 0.1] + \
                 [0.04, 0.05, 0.03, 0.04, 0.02, 0.03, 0.018, 0.022, 0.012, 0.014, 0.007, 0.008, 0.004, 0.0045, 0.002, 0.0025, 0.0012, 0.0013, 0.0006, 0.0007, 0.0003, 0.00035, 0.00015, 0.00018, 0.0001, 0.0001, 0.00006, 0.00006, 0.00004, 0.00004, 0.00003, 0.00003, 0.00003, 0.00003, 0.00003, 0.00003, 0.00003, 0.00003, 0.00003, 0.00003]
white_right_m8 = [0.32, 0.28, 0.18, 0.22, 0.35, 0.12, 0.3, 0.22, 0.5, 0.35, 0.28, 0.45, 0.2, 0.12, 0.35, 0.2, 0.1, 0.3, 0.22, 0.15, 0.12, 0.18, 0.14, 0.2, 0.1, 0.14, 0.12, 0.09, 0.12, 0.08, 0.12, 0.1, 0.08, 0.11, 0.06, 0.1, 0.08, 0.1, 0.09] + \
                 [0.07, 0.04, 0.06, 0.035, 0.05, 0.03, 0.04, 0.025, 0.03, 0.02, 0.022, 0.014, 0.016, 0.009, 0.011, 0.006, 0.007, 0.0035, 0.0045, 0.002, 0.0028, 0.0012, 0.0016, 0.0007, 0.0009, 0.0004, 0.0005, 0.00022, 0.0003, 0.00013, 0.00016, 0.00008, 0.0001, 0.00005, 0.00006, 0.00003, 0.00004, 0.00002, 0.00003, 0.00002]

white_left = [white_left_m1, white_left_m2, white_left_m3, white_left_m4,
              white_left_m5, white_left_m6, white_left_m7, white_left_m8]
white_right = [white_right_m1, white_right_m2, white_right_m3, white_right_m4,
               white_right_m5, white_right_m6, white_right_m7, white_right_m8]

panel_labels = ["(a)", "(b)", "(c)", "(d)", "(e)", "(f)"]
model_labels = ["constant", "p2k-like", "p2k,white"]

n = len(freq)
for arr in [tgt_left_med, tgt_left_hi, tgt_left_lo, const_left_med, const_left_hi, const_left_lo,
            p2k_left_med, p2k_left_hi, p2k_left_lo, tgt_left2_med, tgt_left2_hi, tgt_left2_lo,
            tgt_right_med, tgt_right_hi, tgt_right_lo, const_right_med, const_right_hi, const_right_lo,
            p2k_right_med, p2k_right_hi, p2k_right_lo, tgt_right2_med, tgt_right2_hi, tgt_right2_lo] + white_left + white_right:
    assert len(arr) == n, len(arr)

# ---------------- styling ----------------
sns.set_style("ticks")
plt.rcParams.update({
    "font.family": ["DejaVu Sans"],
    "text.color": "black",
    "axes.labelcolor": "black",
    "axes.edgecolor": "black",
    "axes.linewidth": 0.9,
    "xtick.color": "black",
    "ytick.color": "black",
    "xtick.major.size": 3.5,
    "ytick.major.size": 3.5,
    "xtick.minor.size": 2.0,
    "ytick.minor.size": 2.0,
    "xtick.major.width": 0.8,
    "ytick.major.width": 0.8,
    "xtick.minor.width": 0.6,
    "ytick.minor.width": 0.6,
    "xtick.labelsize": 15,
    "ytick.labelsize": 15,
    "axes.labelsize": 16.5,
    "legend.fontsize": 17,
    "legend.framealpha": 0.8,
    "legend.edgecolor": "0.8",
    "legend.labelcolor": "black",
})

CRIMSON = "#DC143C"
ORANGE = "#FFA500"
W, H = 1049, 1174
fig = plt.figure(figsize=(W / 100, H / 100), dpi=100)


def make_ax(left_px, top_px, right_px, bottom_px):
    return fig.add_axes([left_px / W, 1 - bottom_px / H,
                         (right_px - left_px) / W, (bottom_px - top_px) / H])


axes_px = {
    "(a)": (160, 19, 500, 313), "(b)": (160, 367, 500, 662), "(c)": (160, 799, 500, 1101),
    "(d)": (715, 19, 1051, 315), "(e)": (715, 368, 1051, 664), "(f)": (715, 798, 1051, 1100),
}

fa = np.array(freq)


def setup(ax, ymin, xlabels):
    ax.set_xscale("log")
    ax.set_yscale("log")
    ax.set_xlim(0.005, 0.5)
    ax.set_ylim(ymin, 10)
    ax.yaxis.set_major_locator(LogLocator(base=10, numticks=12))
    ax.yaxis.set_minor_locator(LogLocator(base=10, subs=np.arange(2, 10), numticks=12))
    ax.yaxis.set_minor_formatter(NullFormatter())
    ax.xaxis.set_minor_formatter(NullFormatter())
    for s in ax.spines.values():
        s.set_visible(True)
    ax.set_ylabel("PSD")
    if xlabels:
        ax.set_xlabel("Frequency ($yr^{-1}$)")
    else:
        ax.tick_params(labelbottom=False)


def band_panel(ax, t_med, t_lo, t_hi, m_med, m_lo, m_hi, color, label, xlabels):
    setup(ax, 1e-3, xlabels)
    ax.fill_between(fa, t_lo, t_hi, color="black", alpha=0.5, lw=0)
    sns.lineplot(x=fa, y=np.array(t_med), color="black", lw=1.6, ax=ax,
                 estimator=None, sort=False, label="target")
    ax.fill_between(fa, m_lo, m_hi, color=color, alpha=0.5, lw=0)
    sns.lineplot(x=fa, y=np.array(m_med), color=color, lw=1.6, ax=ax,
                 estimator=None, sort=False, label=label)
    ax.legend(loc="lower left")


def ens_panel(ax, t_med, t_lo, t_hi, members, color, label):
    setup(ax, 1e-4, True)
    ax.fill_between(fa, t_lo, t_hi, color="black", alpha=0.5, lw=0)
    ens = np.array(members)
    df = pd.DataFrame({
        "freq": np.tile(fa, len(members)),
        "psd": ens.ravel(),
        "member": np.repeat(np.arange(len(members)), len(fa)),
    })
    mask = fa >= 0.1
    ax.fill_between(fa[mask], ens.min(axis=0)[mask], np.percentile(ens, 70, axis=0)[mask],
                    color=color, lw=0, alpha=0.95)
    sns.lineplot(data=df, x="freq", y="psd", units="member", estimator=None,
                 color=color, lw=1.0, alpha=0.9, ax=ax, legend=False, sort=False)
    sns.lineplot(x=fa, y=np.array(t_med), color="black", lw=2.6, ax=ax,
                 estimator=None, sort=False, legend=False)
    handles = [Line2D([], [], color="black", lw=2.6), Line2D([], [], color=color, lw=1.6)]
    ax.legend(handles, ["target", label], loc="lower left")


ax_a = make_ax(*axes_px["(a)"])
band_panel(ax_a, tgt_left_med, tgt_left_lo, tgt_left_hi,
           const_left_med, const_left_lo, const_left_hi, CRIMSON, model_labels[0], False)
ax_b = make_ax(*axes_px["(b)"])
band_panel(ax_b, tgt_left_med, tgt_left_lo, tgt_left_hi,
           p2k_left_med, p2k_left_lo, p2k_left_hi, CRIMSON, model_labels[1], True)
ax_c = make_ax(*axes_px["(c)"])
ens_panel(ax_c, tgt_left2_med, tgt_left2_lo, tgt_left2_hi, white_left, CRIMSON, model_labels[2])

ax_d = make_ax(*axes_px["(d)"])
band_panel(ax_d, tgt_right_med, tgt_right_lo, tgt_right_hi,
           const_right_med, const_right_lo, const_right_hi, ORANGE, model_labels[0], False)
ax_e = make_ax(*axes_px["(e)"])
band_panel(ax_e, tgt_right_med, tgt_right_lo, tgt_right_hi,
           p2k_right_med, p2k_right_lo, p2k_right_hi, ORANGE, model_labels[1], True)
ax_f = make_ax(*axes_px["(f)"])
ens_panel(ax_f, tgt_right2_med, tgt_right2_lo, tgt_right2_hi, white_right, ORANGE, model_labels[2])

# panel letters
label_pos = {"(a)": (10, 16), "(b)": (10, 362), "(c)": (10, 787),
             "(d)": (556, 16), "(e)": (556, 362), "(f)": (556, 787)}
for lab in panel_labels:
    x, y = label_pos[lab]
    fig.text(x / W, 1 - y / H, lab, fontsize=37, family=["Roboto", "DejaVu Sans"],
             color="black", ha="left", va="top")

fig.savefig("out.png", dpi=100)
